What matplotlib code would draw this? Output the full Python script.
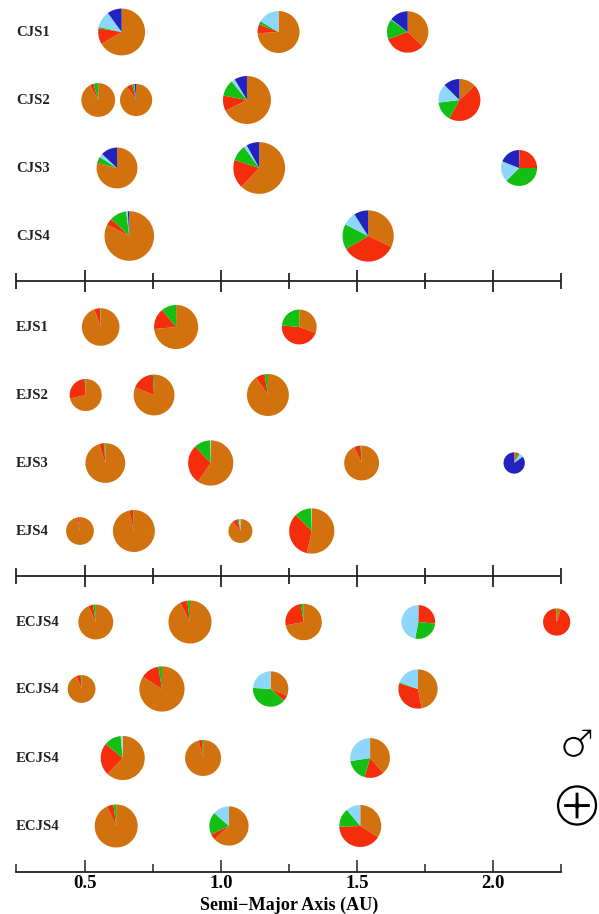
import matplotlib
matplotlib.use('Agg')
import matplotlib.pyplot as plt
import matplotlib.patheffects as pe

plt.rcParams['font.family'] = ['Liberation Serif', 'DejaVu Serif']

# slice colours, clockwise from 12 o'clock
colors = ['#d2720f', '#f42e0c', '#12bf12', '#8fd6fb', '#2222c0']

labels = ['CJS1', 'CJS2', 'CJS3', 'CJS4', 'EJS1', 'EJS2', 'EJS3', 'EJS4',
          'ECJS4', 'ECJS4', 'ECJS4', 'ECJS4']
# row centres in picture pixels
row_y = [32, 100, 168, 236, 327, 395, 463, 531, 622, 689, 758, 826]

# semi-major axis of every planet per row
axis_au = [
    [0.636, 1.212, 1.686],
    [0.550, 0.689, 1.096, 1.876],
    [0.619, 1.141, 2.095],
    [0.664, 1.541],
    [0.559, 0.836, 1.288],
    [0.504, 0.755, 1.173],
    [0.576, 0.963, 1.517, 2.077],
    [0.483, 0.681, 1.072, 1.334],
    [0.541, 0.887, 1.304, 1.725, 2.233],
    [0.489, 0.784, 1.183, 1.724],
    [0.640, 0.935, 1.548],
    [0.616, 1.030, 1.512],
]
# radius of every planet, in AU of the x scale
radius = [
    [0.086, 0.077, 0.076],
    [0.062, 0.059, 0.088, 0.077],
    [0.075, 0.095, 0.066],
    [0.091, 0.094],
    [0.069, 0.081, 0.064],
    [0.059, 0.075, 0.077],
    [0.073, 0.083, 0.064, 0.039],
    [0.051, 0.077, 0.044, 0.083],
    [0.064, 0.079, 0.067, 0.062, 0.050],
    [0.051, 0.083, 0.065, 0.072],
    [0.081, 0.066, 0.073],
    [0.079, 0.072, 0.077],
]
# mass fractions per planet: orange, red, green, light blue, blue
fractions = [
    [[.665, .11, .01, .115, .10], [.74, .07, .025, .165, 0], [.37, .325, .155, .005, .145]],
    [[.92, .035, .045, 0, 0], [.905, .055, .02, .005, .015], [.675, .105, .11, .025, .085], [.13, .45, .15, .145, .125]],
    [[.78, .01, .05, .03, .13], [.62, .18, .10, .02, .08], [.005, .245, .375, .185, .19]],
    [[.825, .045, .11, .01, .01], [.32, .345, .16, .085, .09]],
    [[.945, .05, .005, 0, 0], [.735, .155, .11, 0, 0], [.305, .46, .235, 0, 0]],
    [[.715, .275, .01, 0, 0], [.81, .18, .01, 0, 0], [.905, .07, .025, 0, 0]],
    [[.95, .04, .01, 0, 0], [.595, .285, .115, .005, 0], [.93, .06, .01, 0, 0], [.03, .03, .03, .06, .85]],
    [[.97, .025, .005, 0, 0], [.965, .03, .005, 0, 0], [.89, .07, .02, .02, 0], [.535, .34, .12, .005, 0]],
    [[.93, .045, .025, 0, 0], [.925, .055, .02, 0, 0], [.72, .255, .025, 0, 0], [.005, .26, .265, .47, 0], [.05, .94, .01, 0, 0]],
    [[.94, .05, .01, 0, 0], [.84, .135, .025, 0, 0], [.31, .055, .395, .24, 0], [.47, .325, .01, .195, 0]],
    [[.62, .24, .125, .015, 0], [.96, .03, .01, 0, 0], [.385, .16, .18, .275, 0]],
    [[.93, .05, .02, 0, 0], [.63, .05, .185, .135, 0], [.34, .405, .145, .11, 0]],
]

major_ticks = [0.5, 1.0, 1.5, 2.0]
minor_ticks = [0.25, 0.75, 1.25, 1.75, 2.25]
# the two axes drawn between the groups, picture pixels
divider_y = [281, 576]
bottom_y = 872

W, H = 599, 914
PX_PER_AU = 272.4


def to_y(p):
    return (H - p) / PX_PER_AU


def to_x(p):
    return 0.25 + (p - 16.5) / PX_PER_AU


fig = plt.figure(figsize=(W / 100, H / 100), dpi=100)
ax = fig.add_axes([0, 0, 1, 1])

for row, y in enumerate(row_y):
    ax.text(to_x(16), to_y(y + 0.8), labels[row], fontsize=10.6,
            fontweight='bold', va='center', ha='left', color='#222222')
    for a, r, f in zip(axis_au[row], radius[row], fractions[row]):
        ax.pie(f, colors=colors, center=(a, to_y(y)), radius=r, startangle=90,
               counterclock=False, normalize=True, frame=True,
               wedgeprops=dict(linewidth=0))

# axes between the groups
for y in divider_y:
    ax.hlines(to_y(y), 0.25, 2.25, color='#222222', lw=1.3)
    ax.vlines(major_ticks, to_y(y + 11), to_y(y - 11), color='#222222', lw=1.3)
    ax.vlines(minor_ticks, to_y(y + 8), to_y(y - 8), color='#222222', lw=1.3)

ax.set_xlim(to_x(0), to_x(W))
ax.set_ylim(0, H / PX_PER_AU)
ax.set_aspect('auto')

# bottom axis is the real one
ax.set_frame_on(True)
for side in ['top', 'left', 'right']:
    ax.spines[side].set_visible(False)
ax.spines['bottom'].set_position(('data', to_y(bottom_y)))
ax.spines['bottom'].set_bounds(0.25, 2.25)
ax.spines['bottom'].set_linewidth(1.3)
ax.spines['bottom'].set_color('#222222')
ax.set_yticks([])
ax.set_xticks(major_ticks)
ax.set_xticklabels(['%.1f' % t for t in major_ticks], fontsize=13.5, fontweight='bold')
ax.set_xticks(minor_ticks, minor=True)
ax.tick_params(axis='x', which='major', direction='in', length=8.5, width=1.1, color='#222222', pad=2.5)
ax.tick_params(axis='x', which='minor', direction='in', length=6, width=1.1, color='#222222')
ax.set_xlabel('Semi\u2212Major Axis (AU)', fontsize=13.1, fontweight='bold')
ax.xaxis.set_label_coords(289 / W, 0)
ax.xaxis.label.set_va('bottom')

# planet symbols, glyph edges eaten back with a white stroke to get thin lines
ax.text(to_x(577), to_y(746), '\u2642', fontsize=28, family=['DejaVu Sans'],
        ha='center', va='center',
        path_effects=[pe.Normal(), pe.Stroke(linewidth=1.0, foreground='white')])
ax.text(to_x(577), to_y(808), '\u2295', fontsize=47, family=['DejaVu Sans'],
        ha='center', va='center',
        path_effects=[pe.Normal(), pe.Stroke(linewidth=1.8, foreground='white')])

fig.savefig('out.png', dpi=100)
